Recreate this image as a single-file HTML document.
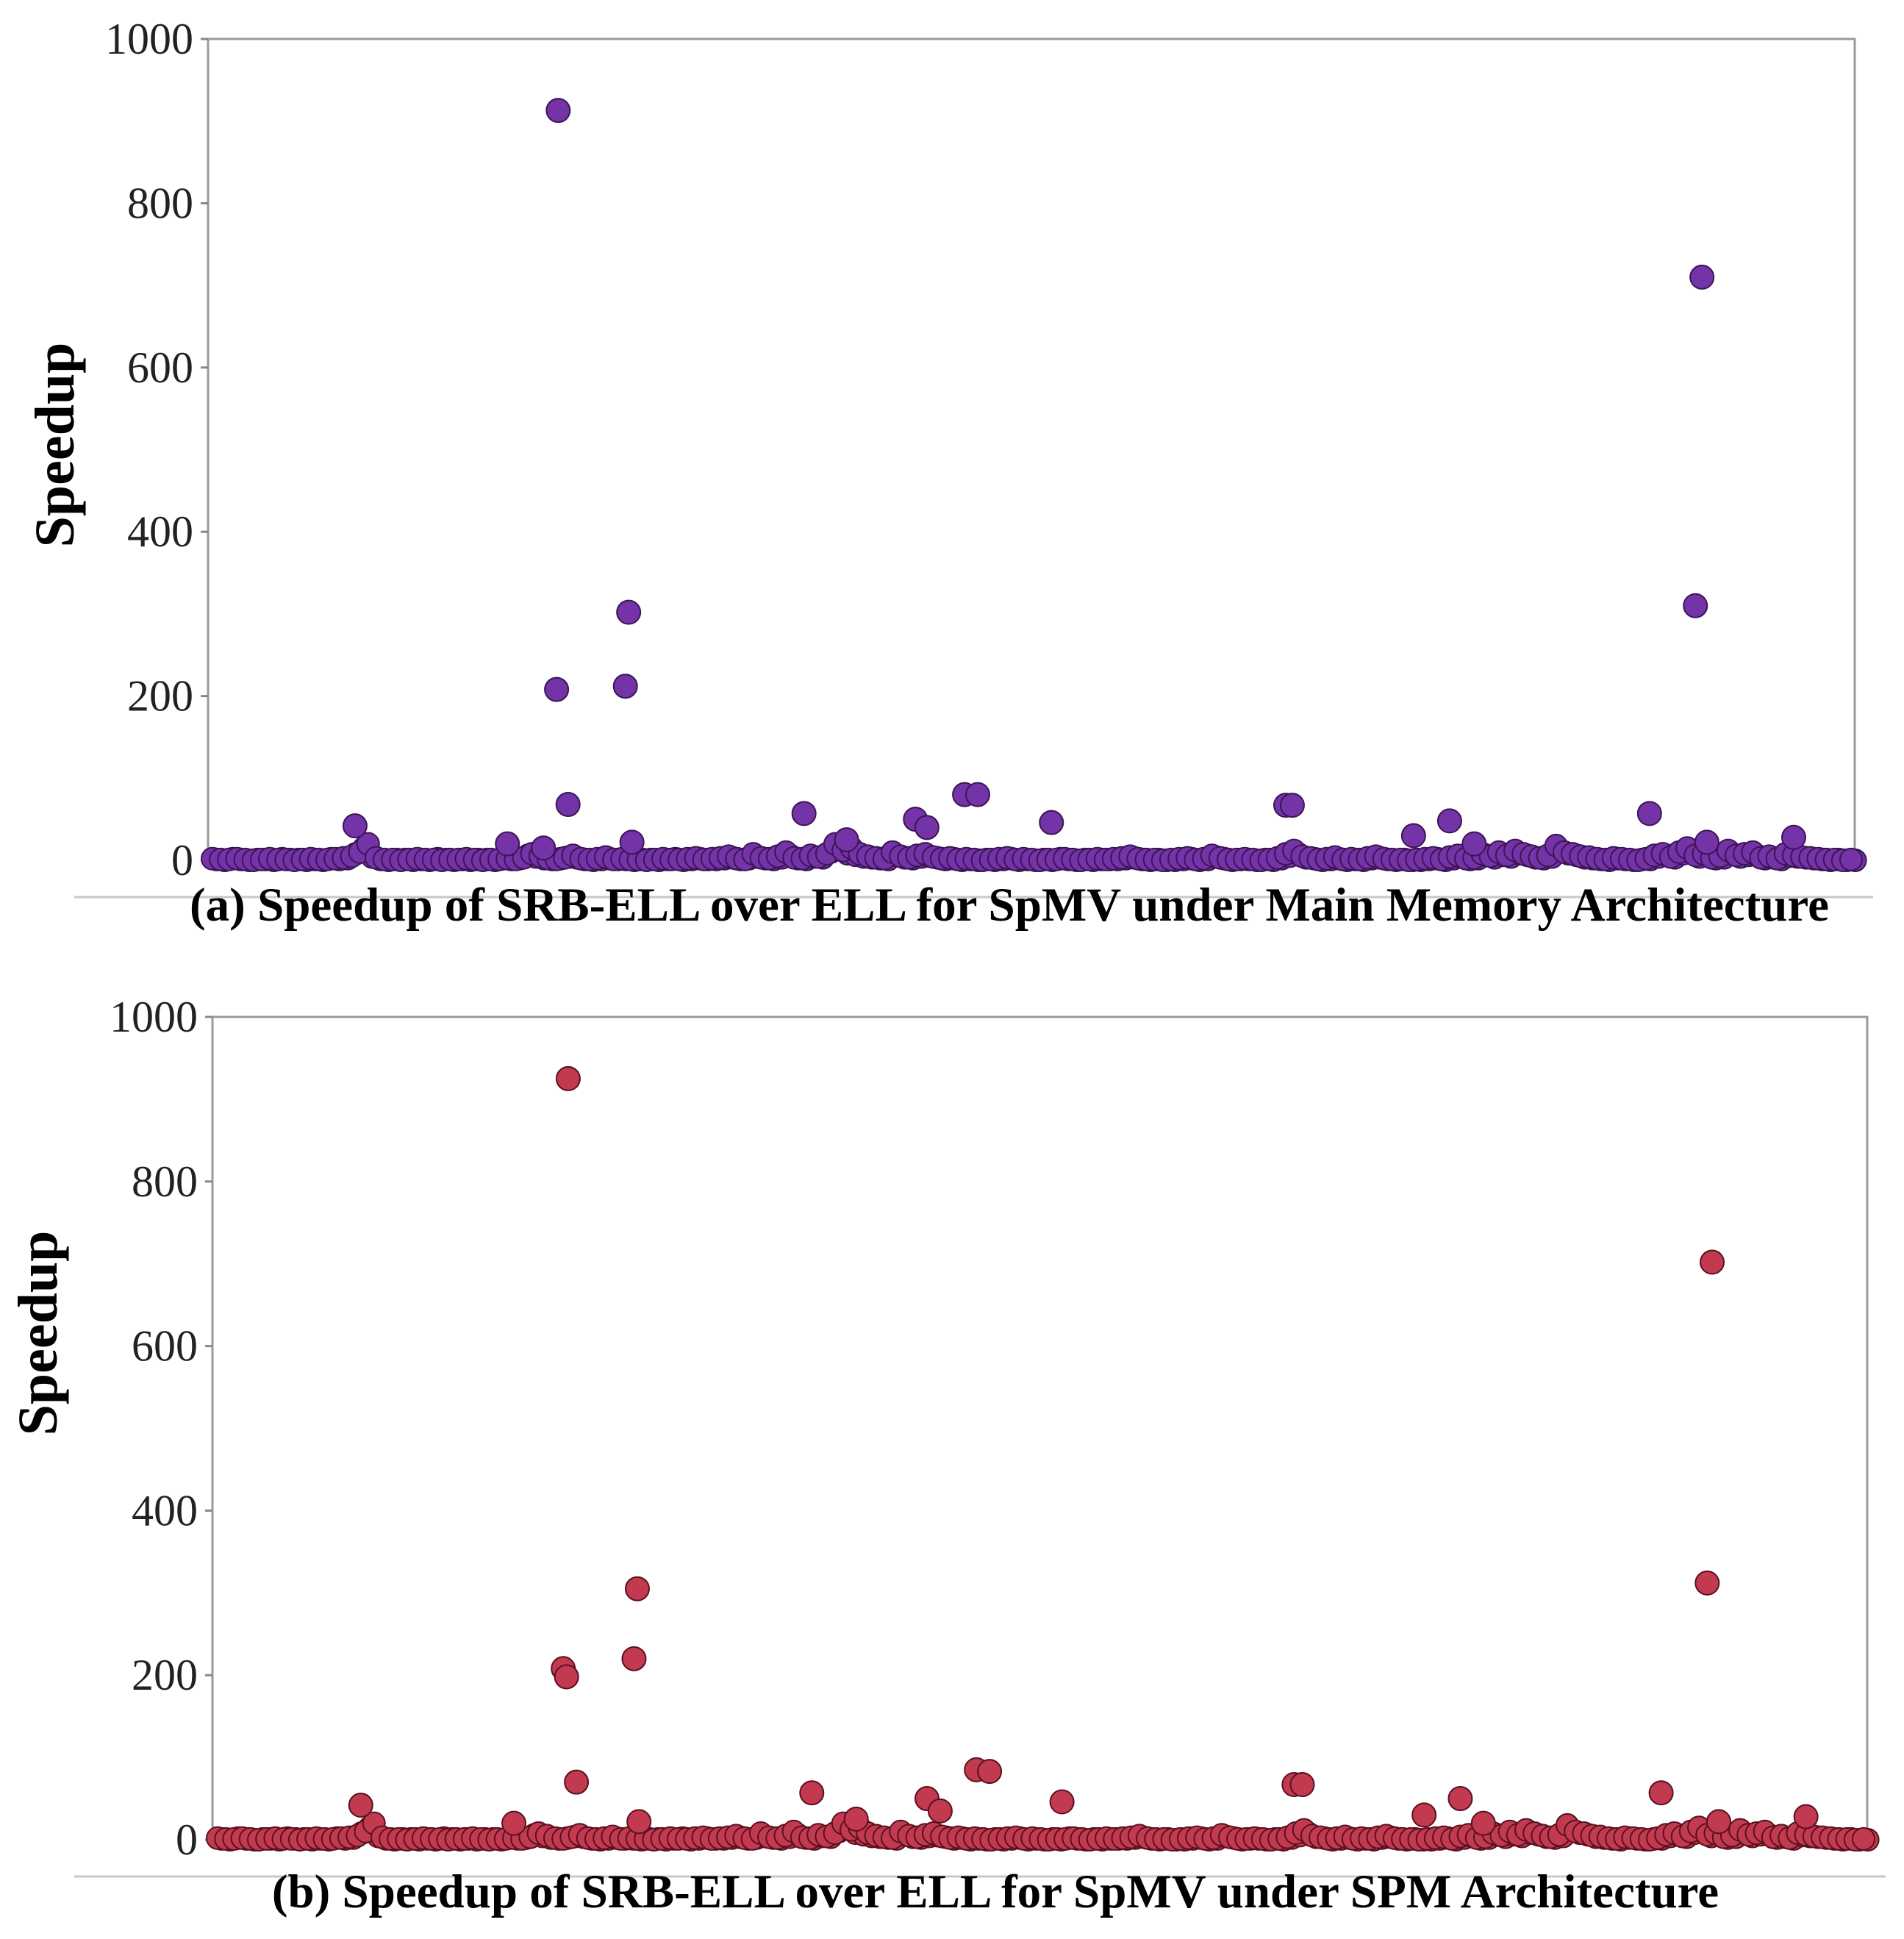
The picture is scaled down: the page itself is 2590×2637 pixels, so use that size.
<!DOCTYPE html>
<html><head><meta charset="utf-8"><style>
html,body{margin:0;padding:0;background:#fff;}
svg{display:block;font-family:"Liberation Serif",serif;}
</style></head><body>
<svg id="fig" width="2590" height="2637" viewBox="0 0 2590 2637"></svg>
<script>
// Matrix ids (0-1000) and speedup values
const baseVals = [2,1,1,2,1,0,1,2,1,1,0,1,2,1,1,2,3,5,10,20,3,1,1,0,1,2,1,1,0,1,1,2,1,0,1,1,2,1,3,8,5,2,1,3,6,2,1,2,4,1,2,1,1,0,1,2,1,1,2,3,1,2,3,5,2,1,8,3,2,5,10,3,2,6,4,8,20,12,15,8,5,3,2,10,5,3,6,8,4,2,3,1,2,1,0,1,2,3,1,2,1,0,1,1,2,1,0,1,2,1,2,3,5,2,1,1,0,1,2,3,1,2,6,3,1,1,2,1,0,1,3,8,12,5,3,1,2,4,1,2,1,3,5,2,1,1,0,1,2,3,1,4,6,2,3,8,5,10,6,12,8,5,3,6,18,10,8,5,4,2,1,3,2,1,0,2,6,8,4,10,15,6,8,3,5,12,6,8,10,3,5,2,8,6,4,3,2,1,1,0,1];
const baseVals2 = [1,0,2,1,0,1,1,0,2,1,1,0,1,0,2,1,2,8,15,4,1,0,1,1,0,1,0,2,1,0,1,0,1,1,0,2,1,2,6,4,2,1,2,4,3,1,0,1,2,1,1,0,1,1,0,1,2,0,1,2,1,1,2,3,1,2,4,2,1,3,6,2,1,4,3,10,15,8,6,4,3,2,1,6,3,2,4,5,3,1,2,0,1,0,1,0,1,2,0,1,0,1,0,2,1,0,1,0,1,1,1,2,3,1,0,1,0,0,1,2,0,1,4,2,0,1,1,0,1,0,2,5,8,3,2,0,1,2,0,1,0,2,3,1,0,1,0,0,1,2,0,2,4,1,2,6,3,6,4,8,6,3,2,4,12,8,6,3,2,1,0,2,1,0,1,1,4,6,3,8,10,4,6,2,3,8,4,6,6,2,3,1,5,4,3,2,1,0,1,0,0];
const topX = [211,210,217,254,252,256,87,361,459,467,512,429,436,655,659,733,755,877,909,905,912,965,770,387,180,202];
const topY = [913,208,68,302,212,22,42,57,80,80,46,50,40,67,67,30,48,57,710,310,22,28,20,25,20,15];
const botX = [213,210,212,218,255,253,256,87,361,461,469,513,431,439,654,659,733,755,877,908,905,912,965,769,388,180];
const botY = [925,208,198,70,305,220,22,42,57,85,83,46,50,35,67,67,30,50,57,702,312,22,28,20,25,20];
const yTicks = [0,200,400,600,800,1000];

const NS = "http://www.w3.org/2000/svg";
const svg = document.getElementById('fig');
function mk(tag, attrs, parent){const e=document.createElementNS(NS,tag);for(const k in attrs)e.setAttribute(k,attrs[k]);(parent||svg).appendChild(e);return e;}

function panel(cfg){
  const g = mk('g',{});
  
  
  const xs = v => cfg.px0 + (v/1000)*(cfg.px1-cfg.px0);
  const ys = v => cfg.y0 + (v/1000)*(cfg.y1000-cfg.y0);
  const frame = mk('rect',{x:cfg.x0,y:cfg.y1000,width:cfg.x1-cfg.x0,height:cfg.y0-cfg.y1000,fill:'none',stroke:'#9a9a9a','stroke-width':3},g);
  
  
  yTicks.forEach(t=>{
    const y=ys(t);
    const tk=mk('line',{x1:cfg.x0-10,x2:cfg.x0,y1:y,y2:y,stroke:'#888','stroke-width':3},g);
    
    
    const tx=mk('text',{x:cfg.x0-20,y:y+20,'text-anchor':'end','font-size':60,fill:'#222'},g);
    tx.textContent=t;
    
    
  });
  const yt=mk('text',{x:0,y:0,'text-anchor':'middle','font-size':76,'font-weight':'bold',transform:`translate(${cfg.titleX},${cfg.titleY}) rotate(-90)`},g);
  yt.textContent='Speedup';
  
  
  const pts = mk('g',{},g);
  
  
  baseVals2.forEach((v,i)=>{
    const c=mk('circle',{cx:xs(i*5+2.5),cy:ys(v),r:15,fill:cfg.fill,stroke:cfg.edge,'stroke-width':2},pts);
    
    
  });
  baseVals.forEach((v,i)=>{
    const c=mk('circle',{cx:xs(i*5),cy:ys(v),r:15,fill:cfg.fill,stroke:cfg.edge,'stroke-width':2},pts);
    
    
  });
  cfg.ox.forEach((x,i)=>{
    const c=mk('circle',{cx:xs(x),cy:ys(cfg.oy[i]),r:16,fill:cfg.fill,stroke:cfg.edge,'stroke-width':2},pts);
    
    
  });
  const ln=mk('line',{x1:cfg.capLineX0,x2:cfg.capLineX1,y1:cfg.capLineY,y2:cfg.capLineY,stroke:'#c8c8c8','stroke-width':3},g);
  
  
  const cap=mk('text',{x:cfg.capX,y:cfg.capY,'text-anchor':'middle','font-size':65,'font-weight':'bold'},g);
  cap.textContent=cfg.caption;
  
  
}

panel({name:'panel-a-main-memory',x0:283,x1:2523,y1000:53,y0:1170,px0:289,px1:2518,
  fill:'#7433a6',edge:'#3b1556',ox:topX,oy:topY,titleX:100,titleY:605,
  capLineX0:101,capLineX1:2548,capLineY:1220,capX:1373,capY:1252,
  caption:'(a) Speedup of SRB-ELL over ELL for SpMV under Main Memory Architecture'});
panel({name:'panel-b-spm',x0:289,x1:2540,y1000:1383,y0:2502,px0:296,px1:2535,
  fill:'#c23a50',edge:'#5a1020',ox:botX,oy:botY,titleX:77,titleY:1813,
  capLineX0:101,capLineX1:2565,capLineY:2552,capX:1354,capY:2594,
  caption:'(b) Speedup of SRB-ELL over ELL for SpMV under SPM Architecture'});
</script>
</body></html>
